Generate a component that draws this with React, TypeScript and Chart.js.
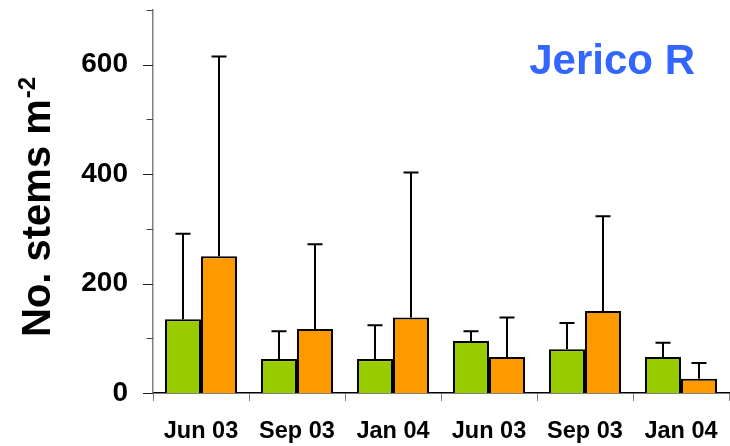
import React, { useEffect, useRef } from "react";
import { Chart, registerables } from "chart.js";

Chart.register(...registerables);

const categories = ["Jun 03", "Sep 03", "Jan 04", "Jun 03", "Sep 03", "Jan 04"];
const greenValues = [135, 62, 62, 95, 80, 66];
const greenErrTop = [291, 113, 124, 113, 128, 92];
const orangeValues = [250, 117, 138, 66, 150, 26];
const orangeErrTop = [615, 272, 403, 138, 323, 55];
const yTickValues = [0, 100, 200, 300, 400, 500, 600, 700];
const yLabelled = [0, 200, 400, 600];
const chartTitle = "Jerico R";
const yTitleMain = "No. stems m";
const yTitleSup = "-2";

const FONT = "'Liberation Sans', Arial, Helvetica, sans-serif";

const errorBarPlugin = {
  id: "errorBars",
  afterDatasetsDraw(chart: any) {
    const ctx = chart.ctx;
    const yScale = chart.scales.y;
    const errs = [greenErrTop, orangeErrTop];
    ctx.save();
    ctx.strokeStyle = "#000";
    ctx.lineWidth = 2;
    errs.forEach((arr, di) => {
      const meta = chart.getDatasetMeta(di);
      meta.data.forEach((bar: any, i: number) => {
        const x = bar.x;
        const top = bar.y;
        const e = yScale.getPixelForValue(arr[i]);
        ctx.beginPath();
        ctx.moveTo(x, top);
        ctx.lineTo(x, e);
        ctx.moveTo(x - 7.5, e);
        ctx.lineTo(x + 7.5, e);
        ctx.stroke();
      });
    });
    ctx.restore();
  },
};

const decorPlugin = {
  id: "decor",
  afterDraw(chart: any) {
    const ctx = chart.ctx;
    const yScale = chart.scales.y;
    const area = chart.chartArea;
    ctx.save();
    // y ticks
    yTickValues.forEach((v) => {
      const py = Math.round(yScale.getPixelForValue(v)) + 0.5;
      const major = yLabelled.includes(v);
      ctx.strokeStyle = major ? "#222" : "#444";
      ctx.lineWidth = 1;
      ctx.beginPath();
      ctx.moveTo(area.left - (major ? 10 : 6.5), py);
      ctx.lineTo(area.left, py);
      ctx.stroke();
    });
    // title
    ctx.fillStyle = "#3366FF";
    ctx.font = `bold 42px ${FONT}`;
    ctx.textAlign = "right";
    ctx.textBaseline = "alphabetic";
    ctx.fillText(chartTitle, area.right - 34, 74);
    // y axis title with superscript
    ctx.translate(50, area.bottom - 56);
    ctx.rotate(-Math.PI / 2);
    ctx.fillStyle = "#000";
    ctx.textAlign = "left";
    ctx.font = `bold 40px ${FONT}`;
    ctx.fillText(yTitleMain, 0, 0);
    const w = ctx.measureText(yTitleMain).width;
    ctx.font = `bold 24px ${FONT}`;
    ctx.fillText(yTitleSup, w + 1, -15);
    ctx.restore();
  },
};

export default function App() {
  const ref = useRef<HTMLCanvasElement>(null);
  useEffect(() => {
    if (!ref.current) return;
    const chart = new Chart(ref.current, {
      type: "bar",
      data: {
        labels: categories,
        datasets: [
          {
            data: greenValues,
            backgroundColor: "#99CC00",
            borderColor: "#000",
            borderWidth: 2,
            categoryPercentage: 0.75,
            barPercentage: 1,
          },
          {
            data: orangeValues,
            backgroundColor: "#FF9900",
            borderColor: "#000",
            borderWidth: 2,
            categoryPercentage: 0.75,
            barPercentage: 1,
          },
        ],
      },
      options: {
        responsive: false,
        animation: false,
        layout: { padding: { top: 10, right: 1, left: 0, bottom: 0 } },
        plugins: {
          legend: { display: false },
          tooltip: { enabled: false },
          title: { display: false },
        },
        scales: {
          x: {
            grid: {
              display: true,
              drawOnChartArea: false,
              drawTicks: true,
              tickLength: 8,
              color: "#808080",
              offset: true,
            },
            border: { display: true, color: "#000", width: 1.5 },
            ticks: {
              color: "#000",
              font: { family: FONT, size: 23.5, weight: "bold" },
              padding: 16,
              maxRotation: 0,
              autoSkip: false,
            },
            afterFit(scale: any) {
              scale.height = 53;
              scale.paddingLeft = 0;
              scale.paddingRight = 0;
            },
          },
          y: {
            min: 0,
            max: 700,
            grid: { display: false, drawTicks: false },
            border: { display: true, color: "#808080", width: 1.5 },
            ticks: {
              stepSize: 100,
              autoSkip: false,
              color: "#000",
              padding: 25,
              font: { family: FONT, size: 28, weight: "bold" },
              callback: (v: any) => (yLabelled.includes(Number(v)) ? String(v) : ""),
            },
            afterFit(scale: any) {
              scale.width = 153;
              scale.paddingTop = 0;
              scale.paddingBottom = 0;
            },
          },
        },
      },
      plugins: [errorBarPlugin, decorPlugin],
    } as any);
    return () => chart.destroy();
  }, []);
  return (
    <div style={{ position: "absolute", left: 0, top: 0, width: 730, height: 446, background: "#fff" }}>
      <canvas ref={ref} width={730} height={446} />
    </div>
  );
}
